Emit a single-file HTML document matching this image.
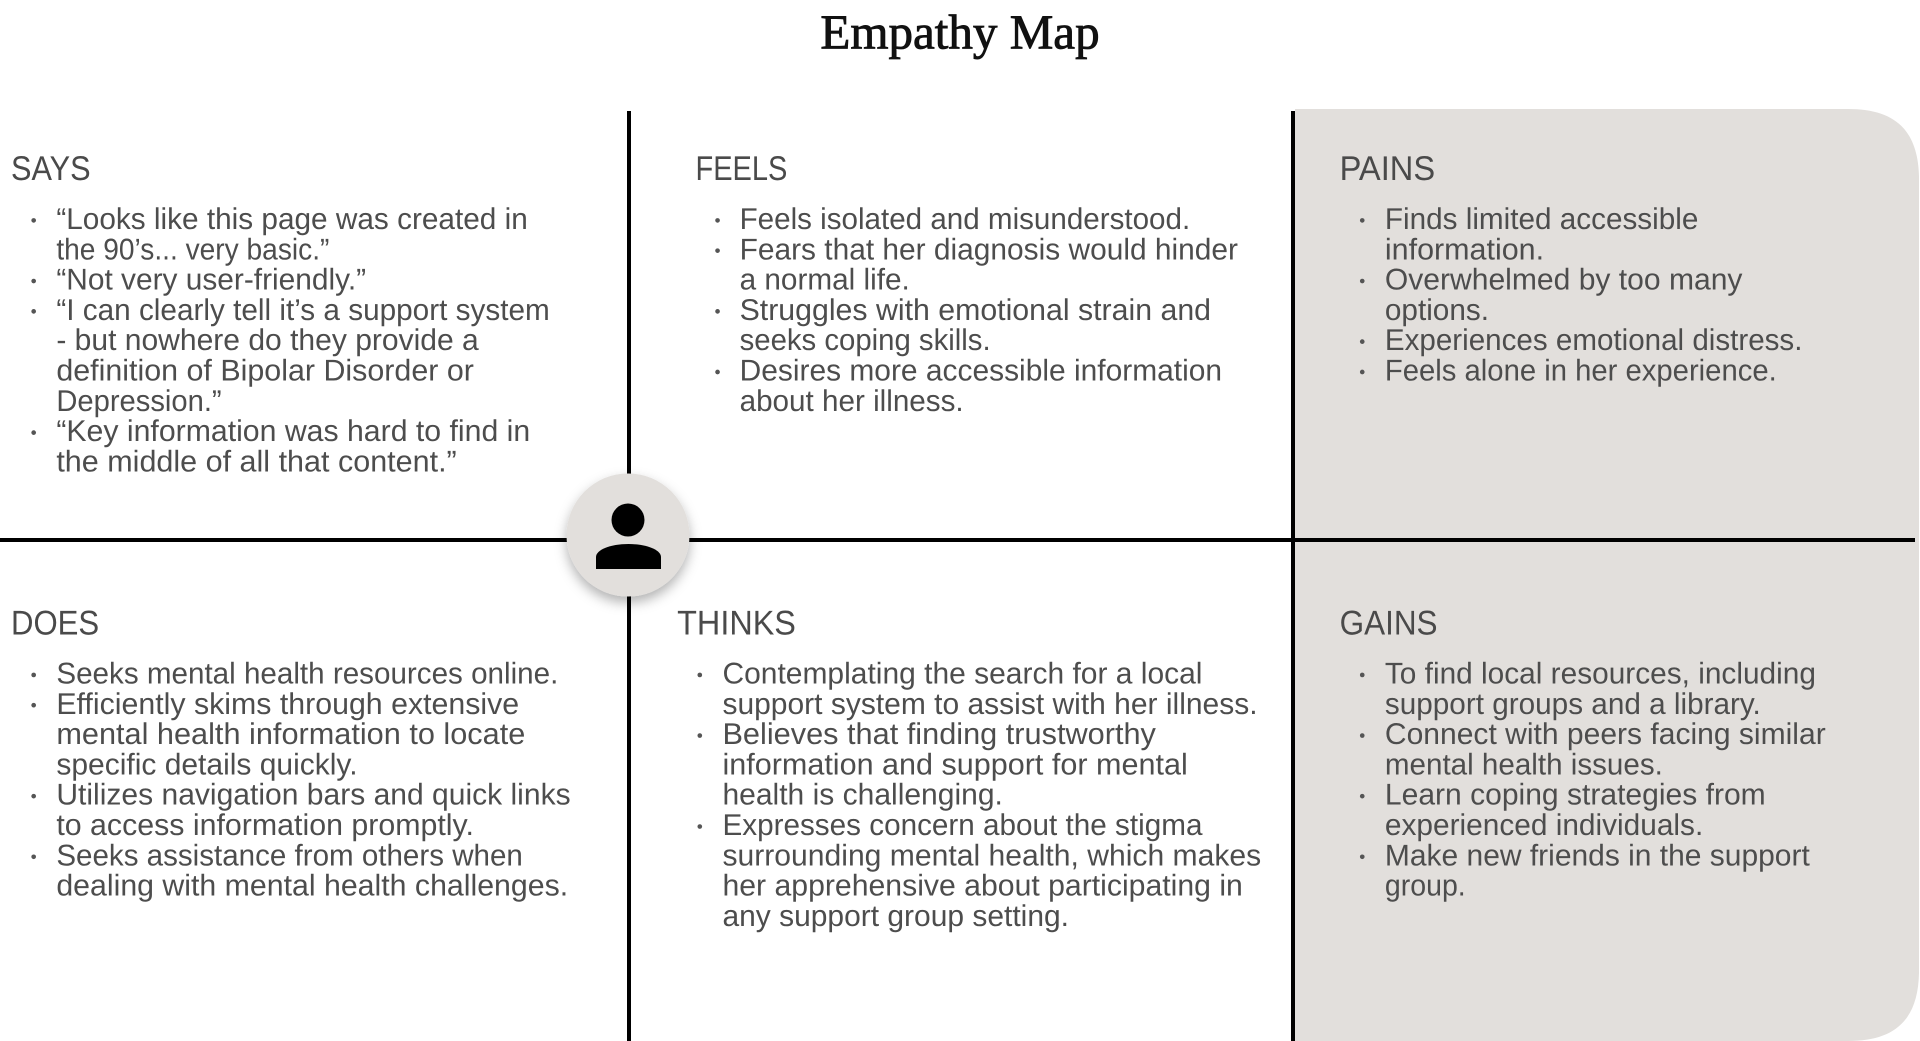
<!DOCTYPE html>
<html><head><meta charset="utf-8"><title>Empathy Map</title>
<style>
html,body{margin:0;padding:0;background:#fff;width:1920px;height:1041px;overflow:hidden}
svg{display:block}
text{font-family:"Liberation Sans",sans-serif;fill:#4d4d4d;font-size:24.5px;text-rendering:geometricPrecision}
.h{font-size:28px;fill:#4a4a4a}
.t{font-family:"Liberation Serif",serif;font-size:40px;fill:#111;stroke:#111;stroke-width:.7px}
circle.b{fill:#555}
</style></head><body>
<svg width="1920" height="1041" viewBox="0 0 1920 1041" xmlns="http://www.w3.org/2000/svg">
<defs><filter id="s" x="-30%" y="-30%" width="160%" height="170%"><feDropShadow dx="0" dy="6" stdDeviation="6" flood-color="#000" flood-opacity=".3"/></filter></defs>
<path d="M1295 109H1848C1895 109 1918 130 1919 177V973C1918 1020 1895 1041 1848 1041H1295Z" fill="#e2dfdc"/>
<rect x="627" y="111" width="4" height="930" fill="#000"/>
<rect x="1291" y="111" width="4" height="930" fill="#000"/>
<rect x="0" y="538" width="1915" height="4" fill="#000"/>
<circle cx="628" cy="535" r="61.5" fill="#e2dfdc" filter="url(#s)"/>
<circle cx="628" cy="520" r="16.5" fill="#000"/>
<path d="M596 569V557C596 550 610 544 628.500 544C647 544 661 550 661 557V569Z" fill="#000"/>
<g transform="scale(1.22449)">
<text class="t" x="670" y="39.500" textLength="228" lengthAdjust="spacingAndGlyphs">Empathy Map</text>
<g transform="translate(0,.8)">
<text class="h" x="9" y="146.300" textLength="65" lengthAdjust="spacingAndGlyphs">SAYS</text>
<circle class="b" cx="27.500" cy="179.200" r="1.900"/><circle class="b" cx="27.500" cy="228.700" r="1.900"/><circle class="b" cx="27.500" cy="253.500" r="1.900"/><circle class="b" cx="27.500" cy="352.500" r="1.900"/>
<text x="46" y="186.200" textLength="385" lengthAdjust="spacingAndGlyphs">“Looks like this page was created in</text>
<text x="46" y="210.950" textLength="223" lengthAdjust="spacingAndGlyphs">the 90’s... very basic.”</text>
<text x="46" y="235.700" textLength="253" lengthAdjust="spacingAndGlyphs">“Not very user-friendly.”</text>
<text x="46" y="260.450" textLength="403" lengthAdjust="spacingAndGlyphs">“I can clearly tell it’s a support system</text>
<text x="46" y="285.200" textLength="345" lengthAdjust="spacingAndGlyphs">- but nowhere do they provide a</text>
<text x="46" y="309.950" textLength="341" lengthAdjust="spacingAndGlyphs">definition of Bipolar Disorder or</text>
<text x="46" y="334.700" textLength="135" lengthAdjust="spacingAndGlyphs">Depression.”</text>
<text x="46" y="359.450" textLength="387" lengthAdjust="spacingAndGlyphs">“Key information was hard to find in</text>
<text x="46" y="384.200" textLength="327" lengthAdjust="spacingAndGlyphs">the middle of all that content.”</text>

<text class="h" x="568" y="146.300" textLength="75" lengthAdjust="spacingAndGlyphs">FEELS</text>
<circle class="b" cx="586" cy="179.200" r="1.900"/><circle class="b" cx="586" cy="203.900" r="1.900"/><circle class="b" cx="586" cy="253.500" r="1.900"/><circle class="b" cx="586" cy="303" r="1.900"/>
<text x="604" y="186.200" textLength="368" lengthAdjust="spacingAndGlyphs">Feels isolated and misunderstood.</text>
<text x="604" y="210.950" textLength="407" lengthAdjust="spacingAndGlyphs">Fears that her diagnosis would hinder</text>
<text x="604" y="235.700" textLength="139" lengthAdjust="spacingAndGlyphs">a normal life.</text>
<text x="604" y="260.450" textLength="385" lengthAdjust="spacingAndGlyphs">Struggles with emotional strain and</text>
<text x="604" y="285.200" textLength="205" lengthAdjust="spacingAndGlyphs">seeks coping skills.</text>
<text x="604" y="309.950" textLength="394" lengthAdjust="spacingAndGlyphs">Desires more accessible information</text>
<text x="604" y="334.700" textLength="183" lengthAdjust="spacingAndGlyphs">about her illness.</text>

<text class="h" x="1094" y="146.300" textLength="78" lengthAdjust="spacingAndGlyphs">PAINS</text>
<circle class="b" cx="1112.500" cy="179.200" r="1.900"/><circle class="b" cx="1112.500" cy="228.700" r="1.900"/><circle class="b" cx="1112.500" cy="278.200" r="1.900"/><circle class="b" cx="1112.500" cy="303" r="1.900"/>
<text x="1131" y="186.200" textLength="256" lengthAdjust="spacingAndGlyphs">Finds limited accessible</text>
<text x="1131" y="210.950" textLength="130" lengthAdjust="spacingAndGlyphs">information.</text>
<text x="1131" y="235.700" textLength="292" lengthAdjust="spacingAndGlyphs">Overwhelmed by too many</text>
<text x="1131" y="260.450" textLength="85" lengthAdjust="spacingAndGlyphs">options.</text>
<text x="1131" y="285.200" textLength="341" lengthAdjust="spacingAndGlyphs">Experiences emotional distress.</text>
<text x="1131" y="309.950" textLength="320" lengthAdjust="spacingAndGlyphs">Feels alone in her experience.</text>

<text class="h" x="9" y="517.500" textLength="72" lengthAdjust="spacingAndGlyphs">DOES</text>
<circle class="b" cx="27.500" cy="550.400" r="1.900"/><circle class="b" cx="27.500" cy="575.100" r="1.900"/><circle class="b" cx="27.500" cy="649.400" r="1.900"/><circle class="b" cx="27.500" cy="698.900" r="1.900"/>
<text x="46" y="557.400" textLength="410" lengthAdjust="spacingAndGlyphs">Seeks mental health resources online.</text>
<text x="46" y="582.150" textLength="378" lengthAdjust="spacingAndGlyphs">Efficiently skims through extensive</text>
<text x="46" y="606.900" textLength="383" lengthAdjust="spacingAndGlyphs">mental health information to locate</text>
<text x="46" y="631.650" textLength="246" lengthAdjust="spacingAndGlyphs">specific details quickly.</text>
<text x="46" y="656.400" textLength="420" lengthAdjust="spacingAndGlyphs">Utilizes navigation bars and quick links</text>
<text x="46" y="681.150" textLength="341" lengthAdjust="spacingAndGlyphs">to access information promptly.</text>
<text x="46" y="705.900" textLength="381" lengthAdjust="spacingAndGlyphs">Seeks assistance from others when</text>
<text x="46" y="730.650" textLength="418" lengthAdjust="spacingAndGlyphs">dealing with mental health challenges.</text>

<text class="h" x="553" y="517.500" textLength="97" lengthAdjust="spacingAndGlyphs">THINKS</text>
<circle class="b" cx="571.500" cy="550.400" r="1.900"/><circle class="b" cx="571.500" cy="599.900" r="1.900"/><circle class="b" cx="571.500" cy="674.200" r="1.900"/>
<text x="590" y="557.400" textLength="392" lengthAdjust="spacingAndGlyphs">Contemplating the search for a local</text>
<text x="590" y="582.150" textLength="437" lengthAdjust="spacingAndGlyphs">support system to assist with her illness.</text>
<text x="590" y="606.900" textLength="354" lengthAdjust="spacingAndGlyphs">Believes that finding trustworthy</text>
<text x="590" y="631.650" textLength="380" lengthAdjust="spacingAndGlyphs">information and support for mental</text>
<text x="590" y="656.400" textLength="229" lengthAdjust="spacingAndGlyphs">health is challenging.</text>
<text x="590" y="681.150" textLength="392" lengthAdjust="spacingAndGlyphs">Expresses concern about the stigma</text>
<text x="590" y="705.900" textLength="440" lengthAdjust="spacingAndGlyphs">surrounding mental health, which makes</text>
<text x="590" y="730.650" textLength="425" lengthAdjust="spacingAndGlyphs">her apprehensive about participating in</text>
<text x="590" y="755.400" textLength="283" lengthAdjust="spacingAndGlyphs">any support group setting.</text>

<text class="h" x="1094" y="517.500" textLength="80" lengthAdjust="spacingAndGlyphs">GAINS</text>
<circle class="b" cx="1112.500" cy="550.400" r="1.900"/><circle class="b" cx="1112.500" cy="599.900" r="1.900"/><circle class="b" cx="1112.500" cy="649.400" r="1.900"/><circle class="b" cx="1112.500" cy="698.900" r="1.900"/>
<text x="1131" y="557.400" textLength="352" lengthAdjust="spacingAndGlyphs">To find local resources, including</text>
<text x="1131" y="582.150" textLength="307" lengthAdjust="spacingAndGlyphs">support groups and a library.</text>
<text x="1131" y="606.900" textLength="360" lengthAdjust="spacingAndGlyphs">Connect with peers facing similar</text>
<text x="1131" y="631.650" textLength="227" lengthAdjust="spacingAndGlyphs">mental health issues.</text>
<text x="1131" y="656.400" textLength="311" lengthAdjust="spacingAndGlyphs">Learn coping strategies from</text>
<text x="1131" y="681.150" textLength="260" lengthAdjust="spacingAndGlyphs">experienced individuals.</text>
<text x="1131" y="705.900" textLength="347" lengthAdjust="spacingAndGlyphs">Make new friends in the support</text>
<text x="1131" y="730.650" textLength="66" lengthAdjust="spacingAndGlyphs">group.</text>
</g>
</g>
</svg>
</body></html>
